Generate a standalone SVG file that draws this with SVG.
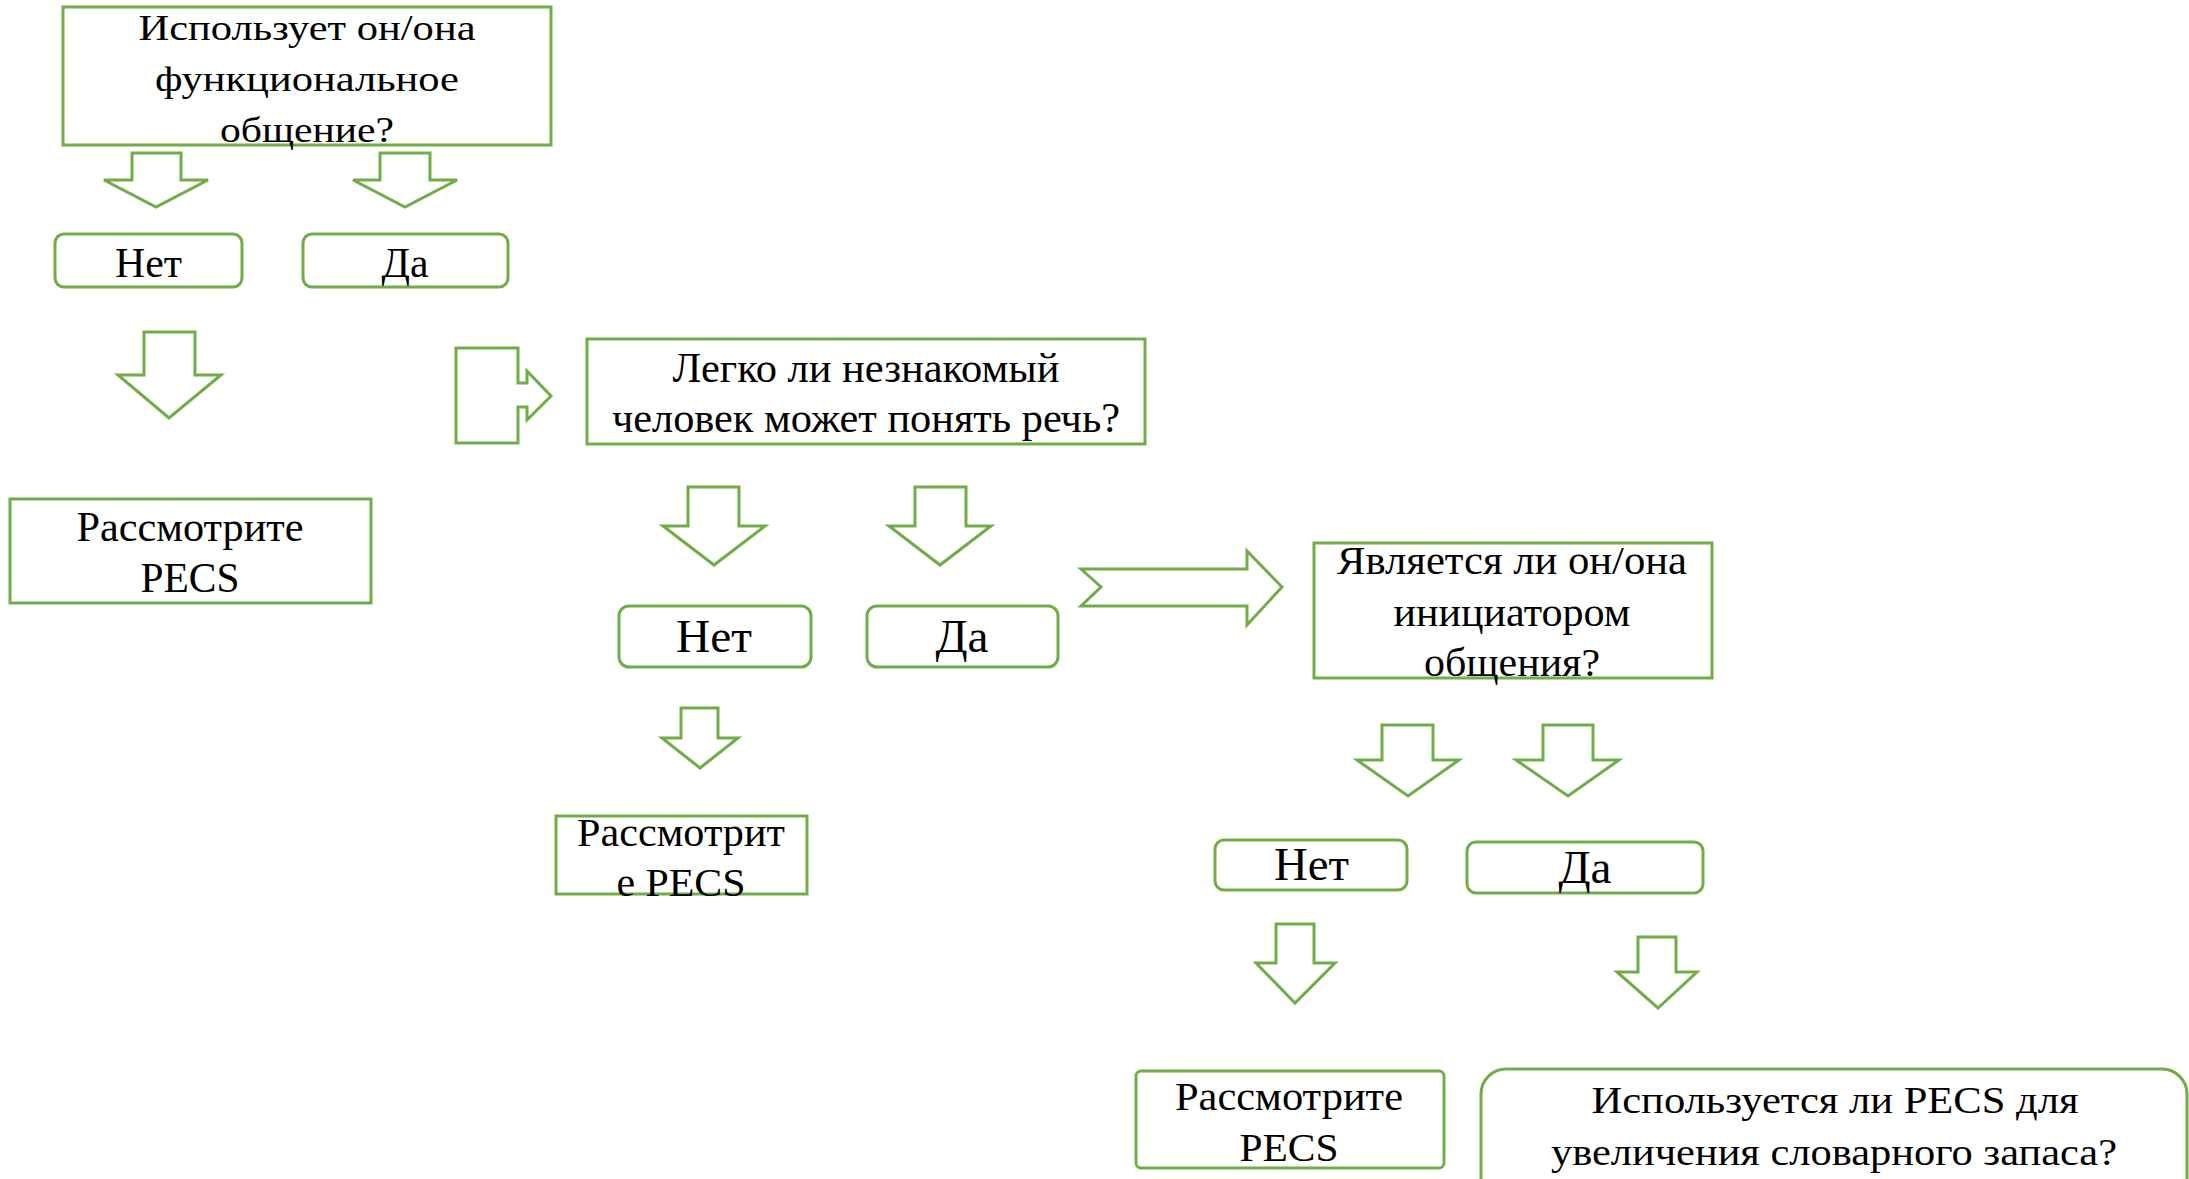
<svg xmlns="http://www.w3.org/2000/svg" width="2189" height="1179" viewBox="0 0 2189 1179">
<style>
.box{fill:#fff;stroke:#70AD47;stroke-width:3}
.arr{fill:#fff;stroke:#70AD47;stroke-width:3;stroke-linejoin:miter}
text{font-family:"Liberation Serif","Times New Roman",serif;fill:#000;text-anchor:middle}
</style>
<rect width="2189" height="1179" fill="#fff"/>
<g id="connectors">
<polygon class="arr" points="132,153 181,153 181,180 208,180 156,207 104,180 132,180"/>
<polygon class="arr" points="380,153 430,153 430,180 457,180 405,207 353,180 380,180"/>
<polygon class="arr" points="144,332 195,332 195,375 221,375 169,418 118,375 144,375"/>
<polygon class="arr" points="456,348 518,348 518,383 527,383 527,371 551,396 527,420 527,407 518,407 518,443 456,443"/>
<polygon class="arr" points="688,487 739,487 739,526 765,526 714,565 663,526 688,526"/>
<polygon class="arr" points="915,487 966,487 966,526 991,526 940,565 889,526 915,526"/>
<polygon class="arr" points="1081,569 1247,569 1247,551 1282,587 1247,625 1247,606 1081,606 1101,587"/>
<polygon class="arr" points="681,708 718,708 718,738 738,738 700,768 662,738 681,738"/>
<polygon class="arr" points="1382,725 1433,725 1433,760 1459,760 1408,796 1357,760 1382,760"/>
<polygon class="arr" points="1543,725 1593,725 1593,760 1619,760 1568,796 1516,760 1543,760"/>
<polygon class="arr" points="1276,924 1314,924 1314,963 1335,963 1295,1003 1256,963 1276,963"/>
<polygon class="arr" points="1638,937 1676,937 1676,972 1697,972 1658,1008 1617,972 1638,972"/>
</g>
<g id="q1">
<rect class="box" x="63" y="7" width="488" height="138"/>
<text font-size="35" x="307" y="40" textLength="337" lengthAdjust="spacingAndGlyphs">Использует он/она</text>
<text font-size="35" x="307" y="91" textLength="304" lengthAdjust="spacingAndGlyphs">функциональное</text>
<text font-size="35" x="307" y="142" textLength="174" lengthAdjust="spacingAndGlyphs">общение?</text>
</g>
<g id="no1">
<rect class="box" x="55" y="234" width="187" height="53" rx="9"/>
<text font-size="42" x="148.5" y="277" textLength="67" lengthAdjust="spacingAndGlyphs">Нет</text>
</g>
<g id="yes1">
<rect class="box" x="303" y="234" width="205" height="53" rx="9"/>
<text font-size="42" x="405" y="277" textLength="47" lengthAdjust="spacingAndGlyphs">Да</text>
</g>
<g id="pecs1">
<rect class="box" x="10" y="499" width="361" height="104"/>
<text font-size="42" x="190" y="541" textLength="227" lengthAdjust="spacingAndGlyphs">Рассмотрите</text>
<text font-size="42" x="190" y="592" textLength="99" lengthAdjust="spacingAndGlyphs">PECS</text>
</g>
<g id="q2">
<rect class="box" x="587" y="339" width="558" height="105"/>
<text font-size="42" x="866" y="382" textLength="387" lengthAdjust="spacingAndGlyphs">Легко ли незнакомый</text>
<text font-size="42" x="866" y="432" textLength="508" lengthAdjust="spacingAndGlyphs">человек может понять речь?</text>
</g>
<g id="no2">
<rect class="box" x="619" y="606" width="192" height="61" rx="10"/>
<text font-size="46" x="714" y="652" textLength="76" lengthAdjust="spacingAndGlyphs">Нет</text>
</g>
<g id="yes2">
<rect class="box" x="867" y="606" width="191" height="61" rx="10"/>
<text font-size="46" x="962" y="652" textLength="53" lengthAdjust="spacingAndGlyphs">Да</text>
</g>
<g id="pecs2">
<rect class="box" x="556" y="816" width="251" height="78"/>
<text font-size="41" x="681" y="846" textLength="208" lengthAdjust="spacingAndGlyphs">Рассмотрит</text>
<text font-size="41" x="681" y="896" textLength="129" lengthAdjust="spacingAndGlyphs">е PECS</text>
</g>
<g id="q3">
<rect class="box" x="1314" y="543" width="398" height="135"/>
<text font-size="40" x="1512" y="574" textLength="350" lengthAdjust="spacingAndGlyphs">Является ли он/она</text>
<text font-size="40" x="1512" y="626" textLength="237" lengthAdjust="spacingAndGlyphs">инициатором</text>
<text font-size="40" x="1512" y="676" textLength="176" lengthAdjust="spacingAndGlyphs">общения?</text>
</g>
<g id="no3">
<rect class="box" x="1215" y="840" width="192" height="50" rx="9"/>
<text font-size="46" x="1311.5" y="880" textLength="75" lengthAdjust="spacingAndGlyphs">Нет</text>
</g>
<g id="yes3">
<rect class="box" x="1467" y="842" width="236" height="51" rx="9"/>
<text font-size="46" x="1585" y="883" textLength="53" lengthAdjust="spacingAndGlyphs">Да</text>
</g>
<g id="pecs3">
<rect class="box" x="1136" y="1071" width="308" height="97" rx="5"/>
<text font-size="40" x="1289" y="1110" textLength="228" lengthAdjust="spacingAndGlyphs">Рассмотрите</text>
<text font-size="40" x="1289" y="1161" textLength="99" lengthAdjust="spacingAndGlyphs">PECS</text>
</g>
<g id="q4">
<rect class="box" x="1481" y="1069" width="706" height="140" rx="25"/>
<text font-size="38" x="1835" y="1113" textLength="487" lengthAdjust="spacingAndGlyphs">Используется ли PECS для</text>
<text font-size="38" x="1834" y="1165" textLength="566" lengthAdjust="spacingAndGlyphs">увеличения словарного запаса?</text>
</g>
</svg>
